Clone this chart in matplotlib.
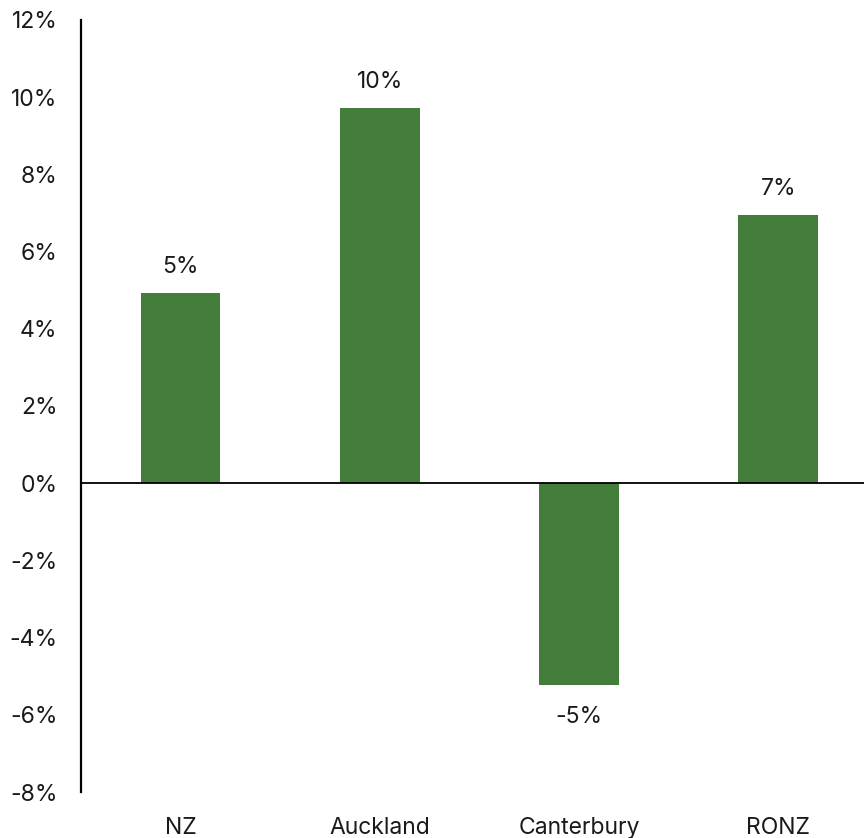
import numpy as np
from matplotlib import pyplot as plt

# Regional growth values (%)
regions = ['NZ', 'Auckland', 'Canterbury', 'RONZ']
growth = [4.92, 9.72, -5.23, 6.94]
yticks = list(range(-8, 13, 2))

plt.rc('font', family=['Inter', 'DejaVu Sans'])

fig = plt.figure(figsize=(8.64, 8.38), dpi=100)
ax1 = fig.add_axes([81 / 864, 46 / 838, 1 - 81 / 864, 772 / 838])

x = np.arange(len(regions))
bars = ax1.bar(x, growth, 0.4, color='#437d3a', zorder=2)

# Value labels
for xi, v in zip(x, growth):
    if v >= 0:
        ax1.annotate('%d%%' % round(v), (xi, v), xytext=(0, 11), textcoords='offset points',
                     ha='center', va='bottom', fontsize=16.5, color='#1a1a1a')
    else:
        ax1.annotate('%d%%' % round(v), (xi, v), xytext=(0, -15), textcoords='offset points',
                     ha='center', va='top', fontsize=16.5, color='#1a1a1a')

ax1.axhline(0, color='black', linewidth=1.3, zorder=3)

ax1.set_xlim(-0.5, 3.43)
ax1.set_ylim(-8, 12)
ax1.set_yticks(yticks)
ax1.set_yticklabels(['%d%%' % t for t in yticks])
ax1.set_xticks(x)
ax1.set_xticklabels(regions)

for s in ['top', 'right', 'bottom']:
    ax1.spines[s].set_visible(False)
ax1.spines['left'].set_linewidth(1.6)
ax1.spines['left'].set_color('black')

ax1.tick_params(axis='y', length=0, pad=17, labelsize=16.5, colors='#1a1a1a')
ax1.tick_params(axis='x', length=0, pad=18, labelsize=16.5, colors='#1a1a1a')

plt.savefig('out.png', dpi=100)
